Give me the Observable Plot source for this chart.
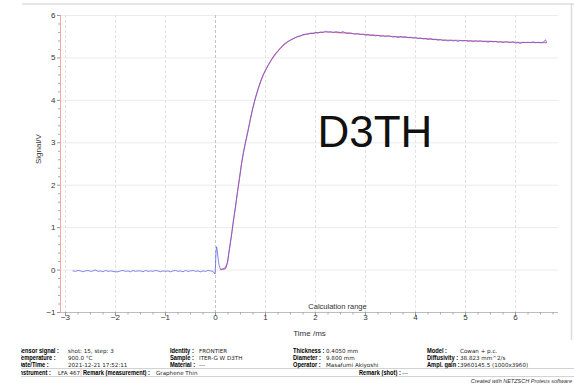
<!DOCTYPE html>
<html><head><meta charset="utf-8">
<script src="https://cdn.jsdelivr.net/npm/d3@7"></script>
<script src="https://cdn.jsdelivr.net/npm/@observablehq/plot@0.6"></script>
<style>body{margin:0;background:#fff}</style>
</head><body><div id="chart"></div>
<script>
// measured detector signal [time ms, signal V]
const signal = [
[-2.85,-0.02],[-2.80,-0.03],[-2.75,-0.01],[-2.70,-0.02],[-2.65,-0.04],[-2.60,-0.02],[-2.55,-0.01],[-2.50,-0.03],[-2.45,-0.02],[-2.40,0.00],
[-2.35,-0.03],[-2.30,-0.02],[-2.25,-0.04],[-2.20,-0.01],[-2.15,-0.03],[-2.10,-0.02],[-2.05,-0.03],[-2.00,-0.04],[-1.95,-0.04],[-1.90,-0.02],
[-1.85,-0.01],[-1.80,-0.03],[-1.75,-0.02],[-1.70,-0.04],[-1.65,-0.01],[-1.60,-0.03],[-1.55,-0.02],[-1.50,-0.02],[-1.45,-0.04],[-1.40,-0.01],
[-1.35,-0.03],[-1.30,-0.02],[-1.25,-0.03],[-1.20,-0.01],[-1.15,-0.02],[-1.10,-0.04],[-1.05,-0.02],[-1.00,-0.03],[-0.95,-0.02],[-0.90,-0.04],
[-0.85,-0.02],[-0.80,-0.01],[-0.75,-0.03],[-0.70,-0.02],[-0.65,-0.04],[-0.60,-0.01],[-0.55,-0.03],[-0.50,-0.02],[-0.45,-0.01],[-0.40,-0.03],
[-0.35,-0.02],[-0.30,-0.04],[-0.25,-0.02],[-0.20,-0.03],[-0.15,-0.01],[-0.10,-0.02],[-0.05,-0.03],
[-0.01,-0.09],[0.00,0.10],[0.01,0.42],[0.02,0.55],[0.03,0.50],[0.05,0.30],[0.07,0.12],[0.09,0.04],[0.12,0.02],[0.15,0.03],[0.18,0.02],[0.21,0.05],[0.24,0.18],
[0.27,0.43],[0.30,0.67],[0.33,0.90],[0.36,1.18],[0.40,1.49],[0.44,1.85],[0.48,2.16],[0.52,2.50],[0.56,2.77],[0.60,3.01],
[0.65,3.27],[0.70,3.58],[0.75,3.84],[0.80,4.06],[0.85,4.26],[0.90,4.44],[0.95,4.60],[1.00,4.71],
[1.05,4.82],[1.10,4.92],[1.15,5.02],[1.20,5.10],[1.25,5.16],[1.30,5.23],[1.35,5.30],[1.40,5.35],[1.45,5.39],[1.50,5.42],
[1.55,5.45],[1.60,5.48],[1.65,5.51],[1.70,5.52],[1.75,5.55],[1.80,5.56],[1.85,5.56],[1.90,5.58],[1.95,5.57],[2.00,5.60],
[2.05,5.59],[2.10,5.61],[2.15,5.60],[2.20,5.63],[2.25,5.61],[2.30,5.62],[2.35,5.60],[2.40,5.62],[2.45,5.61],[2.50,5.60],
[2.55,5.62],[2.60,5.59],[2.65,5.58],[2.70,5.59],[2.75,5.57],[2.80,5.56],[2.85,5.57],[2.90,5.55],[2.95,5.56],[3.00,5.54],
[3.05,5.55],[3.10,5.53],[3.15,5.54],[3.20,5.52],[3.25,5.53],[3.30,5.51],[3.35,5.52],[3.40,5.50],[3.45,5.52],[3.50,5.51],
[3.55,5.49],[3.60,5.50],[3.65,5.48],[3.70,5.50],[3.75,5.49],[3.80,5.50],[3.85,5.48],[3.90,5.49],[3.95,5.47],[4.00,5.48],
[4.05,5.46],[4.10,5.47],[4.15,5.45],[4.20,5.46],[4.25,5.44],[4.30,5.46],[4.35,5.43],[4.40,5.44],[4.45,5.42],[4.50,5.43],
[4.55,5.41],[4.60,5.42],[4.65,5.40],[4.70,5.42],[4.75,5.40],[4.80,5.41],[4.85,5.39],[4.90,5.41],[4.95,5.40],[5.00,5.41],
[5.05,5.39],[5.10,5.40],[5.15,5.38],[5.20,5.40],[5.25,5.39],[5.30,5.40],[5.35,5.38],[5.40,5.39],[5.45,5.37],[5.50,5.39],
[5.55,5.38],[5.60,5.39],[5.65,5.37],[5.70,5.38],[5.75,5.36],[5.80,5.38],[5.85,5.37],[5.90,5.36],[5.95,5.38],[6.00,5.35],
[6.05,5.36],[6.10,5.34],[6.15,5.37],[6.20,5.36],[6.25,5.37],[6.30,5.36],[6.35,5.38],[6.40,5.36],[6.45,5.37],[6.50,5.36],
[6.55,5.37],[6.58,5.39],[6.60,5.43],[6.62,5.37]
];
// model fit (Cowan + p.c.) [time ms, signal V]
const fit = [
[0.10,0.01],[0.15,0.02],[0.20,0.07],[0.24,0.19],[0.27,0.42],[0.30,0.66],[0.33,0.92],[0.36,1.17],[0.40,1.50],[0.44,1.84],
[0.48,2.17],[0.52,2.50],[0.56,2.78],[0.60,3.01],[0.65,3.29],[0.70,3.57],[0.77,3.93],[0.85,4.26],[0.92,4.49],[1.00,4.71],
[1.10,4.92],[1.20,5.09],[1.30,5.23],[1.40,5.34],[1.50,5.42],[1.60,5.48],[1.70,5.52],[1.85,5.57],[2.00,5.59],[2.20,5.61],
[2.40,5.60],[2.60,5.59],[2.80,5.57],[3.00,5.55],[3.50,5.51],[4.00,5.47],[4.50,5.43],[5.00,5.41],[5.50,5.39],[6.00,5.37],[6.62,5.36]
];
const xMajorTicks = [-3,-2,-1,0,1,2,3,4,5,6];
const yMajorTicks = [-1,0,1,2,3,4,5,6];
const sampleName = "D3TH";
const rangeLabel = "Calculation range";
const xLabel = "Time /ms";
const yLabel = "Signal/V";
const footerCols = [
  {labels:["Sensor signal :","Temperature :","Date/Time :"], values:["shot: 15, step: 3","900.0 °C","2021-12-21 17:52:11"]},
  {labels:["Identity :","Sample :","Material :"], values:["FRONTIER","ITER-G W D3TH","---"]},
  {labels:["Thickness :","Diameter :","Operator :"], values:["0.4050 mm","9.800 mm","Masafumi Akiyoshi"]},
  {labels:["Model :","Diffusivity :","Ampl. gain :"], values:["Cowan + p.c.","38.823 mm^2/s","3960145.5 (1000x3960)"]}
];
const footerRow4 = [
  {label:"Instrument :", value:"LFA 467"},
  {label:"Remark (measurement) :", value:"Graphene Thin"},
  {label:"Remark (shot) :", value:"---"}
];
const credit = "Created with NETZSCH Proteus software";

const minorX = d3.range(-3, 6.8, 0.25).filter(d => Math.abs(d - Math.round(d)) > 1e-6);
const minorY = d3.range(-1, 6.01, 0.2).filter(d => Math.abs(d - Math.round(d)) > 1e-6);
const font = "'Liberation Sans', Arial, sans-serif";
const valueFont = "'DejaVu Sans', 'Liberation Sans', sans-serif";

const chart = Plot.plot({
  width: 574, height: 384,
  marginLeft: 60, marginRight: 16, marginTop: 15, marginBottom: 72,
  x: {domain: [-3.1, 6.86], label: null},
  y: {domain: [-1, 6], label: null},
  style: {fontFamily: font, fontSize: "8px", color: "#333", background: "#fff"},
  marks: [
    Plot.ruleY(yMajorTicks.slice(1), {stroke: "#ececec"}),
    Plot.ruleX(xMajorTicks.filter(d => d !== 0), {stroke: "#e2e2e2", strokeDasharray: "3,2"}),
    Plot.ruleX([0], {stroke: "#c4c4c4", strokeDasharray: "3,2"}),
    Plot.ruleY([-1], {stroke: "#bdbdbd"}),
    Plot.axisX(minorX, {tickSize: 2.5, tickFormat: () => "", stroke: "#aaa", label: null}),
    Plot.axisX(xMajorTicks, {tickSize: 4, tickPadding: -2, stroke: "#999", fill: "#333", label: null}),
    Plot.axisY(minorY, {tickSize: 2, tickFormat: () => "", stroke: "#aaa", label: null}),
    Plot.axisY(yMajorTicks, {tickSize: 3, tickPadding: 2, stroke: "#999", fill: "#333", label: null}),
    Plot.ruleX([-3.1], {stroke: "#f6a8a8"}),
    Plot.line(fit, {x: d => d[0], y: d => d[1], stroke: "#f07090", strokeWidth: 1.1, curve: "monotone-x"}),
    Plot.line(signal, {x: d => d[0], y: d => d[1], stroke: "#5656e0", strokeWidth: 0.8, strokeOpacity: 0.9}),
    Plot.text([sampleName], {x: 2.04, y: 3.23, text: d => d, textAnchor: "start", fontSize: 44, fill: "#111", fontFamily: font}),
    Plot.text([rangeLabel], {x: 2.44, y: -0.86, text: d => d, fontSize: 7.5, fill: "#333"}),
    Plot.text([yLabel], {frameAnchor: "left", dx: -22, rotate: -90, text: d => d, fontSize: 8, fill: "#333"}),
    Plot.text([xLabel], {frameAnchor: "bottom", lineAnchor: "middle", dy: 21, text: d => d, fontSize: 8, fill: "#333"})
  ]
});
document.getElementById("chart").appendChild(chart);

// frame and footer
const svg = d3.select(chart);
svg.append("rect").attr("x", 22).attr("y", 3).attr("width", 552).attr("height", 2).attr("fill", "#e6e6e6");
svg.append("line").attr("x1", 571.5).attr("x2", 571.5).attr("y1", 3).attr("y2", 340).attr("stroke", "#dcdcdc").attr("stroke-width", 1.5);

svg.append("defs").append("clipPath").attr("id", "footclip")
  .append("rect").attr("x", 21).attr("y", 340).attr("width", 553).attr("height", 44);
const foot = svg.append("g").attr("clip-path", "url(#footclip)")
  .attr("text-anchor", "start").attr("fill", "#000");

function label(x, y, t) {
  foot.append("text").attr("text-anchor", "start")
    .attr("transform", `translate(${x},${y}) scale(0.88,1)`)
    .style("font-family", font).style("font-size", "6.5px").attr("font-weight", "bold").text(t);
}
function value(x, y, t) {
  foot.append("text").attr("text-anchor", "start").attr("x", x).attr("y", y)
    .style("font-family", valueFont).style("font-size", "5.6px").attr("fill", "#222").text(t);
}
const colX = [[18, 68], [170, 199], [293, 326], [427, 460]];
const rowY = [353, 360, 367.2];
footerCols.forEach((col, ci) => {
  col.labels.forEach((lab, ri) => {
    label(colX[ci][0], rowY[ri], lab);
    value(colX[ci][1], rowY[ri], col.values[ri]);
  });
});
const r4 = [[18, 58], [83, 156], [359, 402]];
footerRow4.forEach((d, i) => {
  label(r4[i][0], 374.6, d.label);
  value(r4[i][1], 374.6, d.value);
});
foot.append("line").attr("x1", 21).attr("x2", 574).attr("y1", 368.5).attr("y2", 368.5).attr("stroke", "#c8c8c8").attr("stroke-width", 0.8);
foot.append("line").attr("x1", 21).attr("x2", 574).attr("y1", 376.5).attr("y2", 376.5).attr("stroke", "#c8c8c8").attr("stroke-width", 0.8);
foot.append("line").attr("x1", 81).attr("x2", 81).attr("y1", 368.5).attr("y2", 376.5).attr("stroke", "#c8c8c8").attr("stroke-width", 0.8);
svg.append("text").attr("x", 572).attr("y", 383).attr("text-anchor", "end")
  .style("font-family", font).style("font-size", "5.5px").style("font-style", "italic").attr("fill", "#333").text(credit);
</script>
</body></html>
